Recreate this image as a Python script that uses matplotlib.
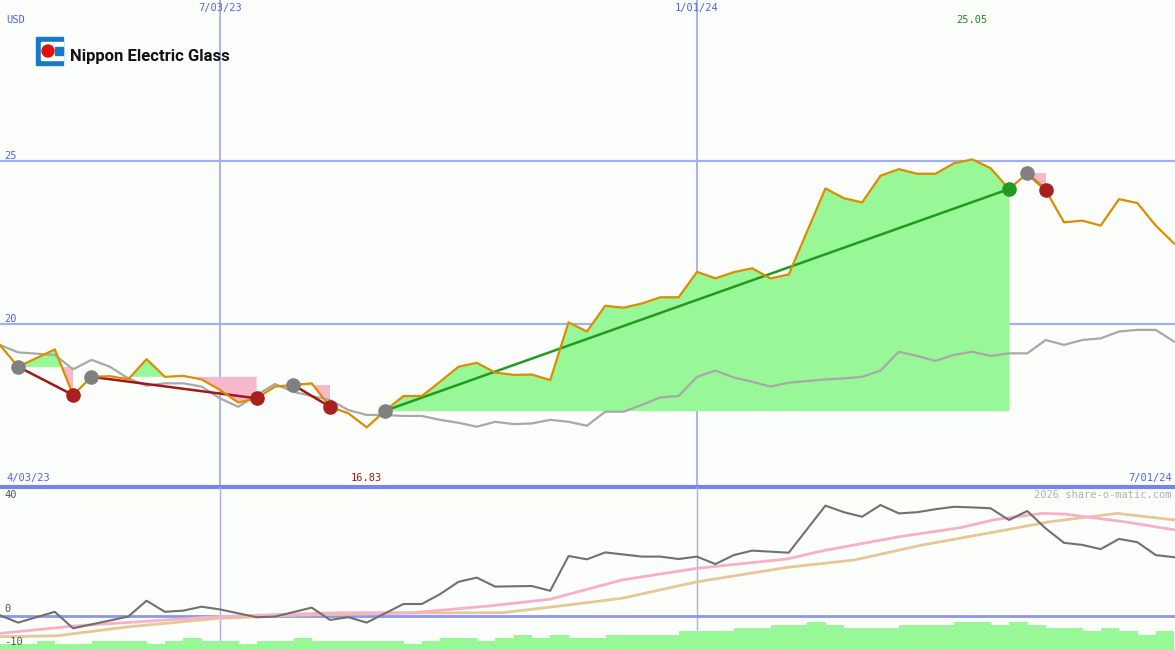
import matplotlib
matplotlib.use("Agg")
import matplotlib.pyplot as plt
import numpy as np
from matplotlib.patches import Rectangle, Ellipse

# ---- data ----
weeks = [1,2,4,5,6,7,8,9,10,11,12,13,14,15,16,17,18,19,20,21,22,23,24,25,26,27,28,29,30,31,
         32,33,34,35,36,37,38,39,40,41,42,43,44,46,47,48,49,50,51,52,53,54,55,56,57,58,59,60,61,62,63,64,65]
price = [19.36,18.69,19.22,17.82,18.38,18.40,18.30,18.92,18.38,18.41,18.30,17.98,17.59,17.72,18.08,18.13,
         18.18,17.46,17.26,16.83,17.34,17.79,17.79,18.23,18.69,18.81,18.51,18.44,18.45,18.28,
         20.05,19.77,20.56,20.50,20.63,20.82,20.82,21.60,21.40,21.59,21.71,21.40,21.52,
         24.16,23.86,23.73,24.55,24.75,24.61,24.61,24.93,25.05,24.78,24.14,24.62,24.11,23.12,23.17,23.02,23.83,23.71,23.02,22.47]
index_line = [19.36,19.13,19.05,18.61,18.90,18.69,18.33,18.11,18.18,18.18,18.08,17.72,17.46,17.82,18.16,17.92,
              17.79,17.67,17.36,17.21,17.21,17.18,17.18,17.06,16.97,16.85,17.00,16.93,16.95,17.06,
              17.00,16.88,17.31,17.31,17.52,17.75,17.79,18.38,18.57,18.36,18.23,18.08,18.20,
              18.30,18.33,18.38,18.57,19.15,19.02,18.87,19.05,19.15,19.02,19.10,19.10,19.51,19.36,19.51,19.56,19.77,19.82,19.82,19.46]
buy_weeks = [2,6,17,22,57]
sell_weeks = [5,15,19,56,58]

mom_weeks = [1,2,4,5,8,9,10,11,12,13,15,16,18,19,20,21,23,24,25,26,27,28,30,31,32,33,34,36,37,38,39,40,41,42,44,
             46,47,48,49,50,51,52,53,54,55,56,57,58,59,60,61,62,63,64,65]
momentum = [0.3,-2.2,1.4,-4.1,-0.2,5.1,1.4,1.8,3.1,2.2,-0.4,-0.2,2.8,-1.3,-0.4,-2.2,4.0,4.0,7.3,11.4,12.8,9.8,10.0,8.4,
            20,18.9,21.2,19.8,19.8,19,19.8,17.3,20.3,21.8,21.1,36.8,34.6,33.1,37,34.2,34.6,35.6,36.4,36.2,35.9,32,35,
            29.2,24.4,23.7,22.3,25.7,24.6,20.3,19.6]
ma1_weeks = [1,5.1,12.9,15.3,19.4,23.5,27.6,31,34.9,39,43.9,45.9,50,53.3,55.3,57.8,59,62.3,65.05]
ma1 = [-5.8,-3.3,-0.2,0.3,1.1,1.1,3.3,5.6,12,15.9,19,21.8,26.4,29.4,32.2,34.2,34,31.4,28.7]
ma2_weeks = [1,4.1,8,12.9,17.4,23.5,28.4,31.2,34.9,39,43.9,47.6,51.3,55.3,58.2,61.9,65.05]
ma2 = [-6.9,-6.6,-3.6,-0.8,0.3,1.0,1.1,3.1,5.9,11.4,16.2,18.7,23.7,28.1,31.4,34.2,32]
vol = [-9.3,-9.3,-8.3,-9.3,-9.3,-8.3,-8.3,-8.3,-9.3,-8.3,-7.3,-8.3,-8.3,-9.3,-8.3,-8.3,-7.3,
       -8.3,-8.3,-8.3,-8.3,-8.3,-9.3,-8.3,-7.3,-7.3,-8.3,-7.3,-6.3,-7.3,-6.3,-7.3,-7.3,
       -6.3,-6.3,-6.3,-6.3,-5.0,-5.0,-5.0,-3.9,-3.9,-3.0,-3.0,-2.1,-3.0,-3.9,-3.9,-3.9,
       -3.0,-3.0,-3.0,-2.1,-2.1,-3.0,-2.1,-3.0,-3.9,-3.9,-5.0,-3.9,-5.0,-6.3,-5.0]
date_ticks = [13, 39]
date_labels = ["7/03/23", "1/01/24"]

# ---- layout ----
BG = "#fbfefb"
XL = (1.014, 65.05)
fig = plt.figure(figsize=(11.75, 6.5), dpi=100, facecolor=BG)
ax = fig.add_axes([0, 163/650, 1, 487/650], facecolor=BG)
ax2 = fig.add_axes([0, 0, 1, 163/650], facecolor=BG)
for a in (ax, ax2):
    a.set_xlim(*XL)
    a.axis("off")
ax.set_ylim(15.0, 29.94)
ax2.set_ylim(-11.33, 43)

w = np.array(weeks, float); p = np.array(price); pos = {k: i for i, k in enumerate(weeks)}
for v in (20, 25):
    ax.axhline(v, color="#a4aef2", lw=1.6, zorder=1)
ax.axhline(15.0, color="#7884ee", lw=3, zorder=5, clip_on=False)
for d in date_ticks:
    ax.axvline(d, color="#a4aef2", lw=1.3, zorder=1)
    ax2.axvline(d, color="#a4aef2", lw=1.0, zorder=1)

# trades
for b, s in zip(buy_weeks, sell_weeks):
    i0, i1 = pos[b], pos[s]
    lvl = price[i0]
    ww = w[i0:i1+1]; pp = p[i0:i1+1]
    ax.fill_between(ww, lvl, pp, where=pp >= lvl, interpolate=True, color="#98f898", lw=0, zorder=2)
    ax.fill_between(ww, lvl, pp, where=pp < lvl, interpolate=True, color="#f8b8cc", lw=0, zorder=2)
    win = price[i1] > lvl
    ax.plot([b, s], [lvl, price[i1]], color="#229922" if win else "#a01818", lw=1.8, zorder=4)
    ax.scatter([b], [lvl], s=90, color="#808080", zorder=6)
    ax.scatter([s], [price[i1]], s=90, color="#229922" if win else "#a82020", zorder=6)

ax.plot(w, index_line, color="#a8a8a8", lw=1.6, zorder=3)
ax.plot(w, p, color="#dd8c00", lw=1.6, zorder=5)

# texts
mono = "DejaVu Sans Mono"
def ftext(x, y, s, c, **kw):
    fig.text(x/1175, 1 - y/650, s, color=c, fontsize=7.5, family=mono, va="center", **kw)
ftext(6, 20, "USD", "#5060f0")
ftext(4, 156, "25", "#5060f0"); ftext(4, 319, "20", "#5060f0")
for d, lab in zip(date_ticks, date_labels):
    fx = (d - XL[0]) / (XL[1] - XL[0]) * 1175
    ftext(fx, 8, lab, "#5060f0", ha="center")
ftext(28, 478, "4/03/23", "#5060f0", ha="center")
ftext(1150, 478, "7/01/24", "#5060f0", ha="center")
fmax = (weeks[int(np.argmax(price))] - XL[0]) / (XL[1] - XL[0]) * 1175
fmin = (weeks[int(np.argmin(price))] - XL[0]) / (XL[1] - XL[0]) * 1175
ftext(fmax, 20, f"{max(price):.2f}", "#228822", ha="center")
ftext(fmin, 478, f"{min(price):.2f}", "#a01818", ha="center")
ftext(4, 495, "40", "#505050"); ftext(4, 609, "0", "#505050"); ftext(4, 642, "-10", "#505050")
ftext(1172, 495, "2026 share-o-matic.com", "#b0b0b0", ha="right")
t = fig.text(70/1175, 1 - 57/650, "Nippon Electric Glass", fontsize=12, weight="bold",
             family="Roboto", va="center", color="#111111")
t.set_stretch("condensed")
# logo
T = fig.transFigure
fig.patches.append(Rectangle((36/1175, 1-65/650), 27/1175, 28/650, transform=T, color="#1a78c8"))
fig.patches.append(Rectangle((41/1175, 1-60/650), 22/1175, 18/650, transform=T, color="white"))
fig.patches.append(Rectangle((55/1175, 1-55/650), 8/1175, 8/650, transform=T, color="#1a78c8"))
fig.patches.append(Ellipse((48/1175, 1-51/650), 12/1175, 12/650, transform=T, color="#e01010"))

# lower panel
ax2.axhline(0, color="#8a96f0", lw=2, zorder=1)
vw = np.arange(len(vol)) + XL[0]
ax2.fill_between(np.append(vw, vw[-1]+1), -11.33, np.append(vol, vol[-1]), step="post", color="#98f898", lw=0, zorder=2)
ax2.plot(ma2_weeks, ma2, color="#e6c898", lw=2, zorder=3)
ax2.plot(ma1_weeks, ma1, color="#f8b0c8", lw=2, zorder=3)
ax2.plot(mom_weeks, momentum, color="#707070", lw=1.5, zorder=4)

fig.savefig("out.png", dpi=100, facecolor=BG)
